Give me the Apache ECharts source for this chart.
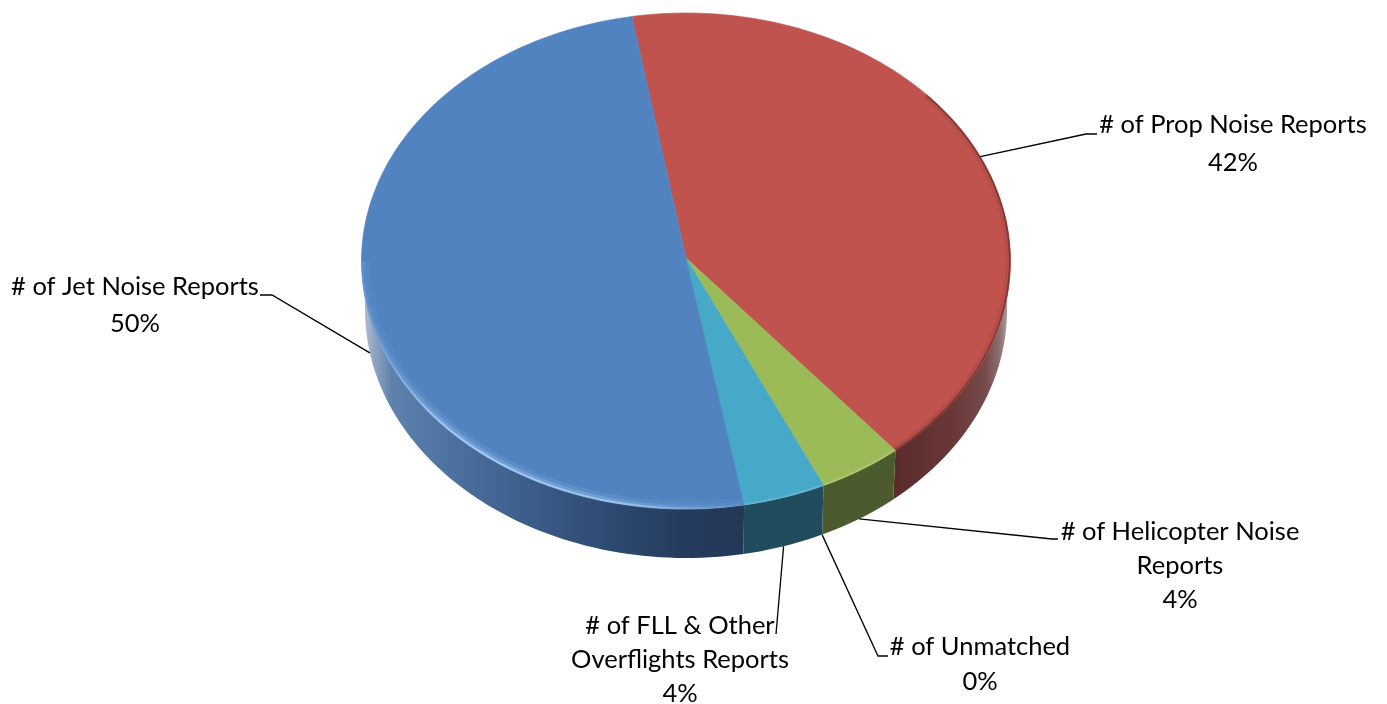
<!DOCTYPE html>
<html>
<head>
<meta charset="UTF-8">
<script src="https://cdn.jsdelivr.net/npm/echarts@6/dist/echarts.min.js"></script>
<style>
  html, body { margin: 0; padding: 0; background: #fff; }
  #main { width: 1387px; height: 704px; }
</style>
</head>
<body>
<div id="main"></div>
<script>
// values, same order as the slices go clockwise
var sliceNames = ['# of Prop Noise Reports', '# of Helicopter Noise\nReports', '# of Unmatched', '# of FLL & Other\nOverflights Reports', '# of Jet Noise Reports'];
var sliceValues = [41.5, 4.2, 0, 4.1, 50.2];
var sliceColors = ['#c0534e', '#9bbb59', '#7f7f7f', '#47a9c8', '#5283c1'];

// label placement: text centre, line height, leader elbow and stub end
var labelLayout = [
  { x: 1233, y: 144, lh: 38, elbow: [1086, 134], end: [1097, 134] },
  { x: 1180, y: 566, lh: 34, elbow: [1052, 539], end: [1058, 539] },
  { x: 980, y: 664, lh: 35, elbow: [878, 656], end: [888, 656] },
  { x: 680, y: 660, lh: 34, elbow: [776, 634], end: [776, 634] },
  { x: 135, y: 305, lh: 37, elbow: [272, 295], end: [260, 295] }
];

var TOP = { cx: 686, cy: 261, rx: 324.5, ry: 248 };
var BOTTOM = { cx: 686, cy: 310, rx: 321, ry: 248 };
var START_ANGLE = -9.6;
var total = sliceValues.reduce(function (a, b) { return a + b; }, 0);

function sliceRange(i) {
  var sum = 0;
  for (var k = 0; k < i; k++) sum += sliceValues[k];
  var a0 = START_ANGLE + sum / total * 360;
  return [a0, a0 + sliceValues[i] / total * 360];
}
function onEllipse(e, deg, k) {
  var r = deg * Math.PI / 180;
  k = k || 1;
  return [e.cx + e.rx * k * Math.sin(r), e.cy - e.ry * k * Math.cos(r)];
}
function arc(e, a0, a1, k) {
  var pts = [];
  var n = Math.max(2, Math.ceil(Math.abs(a1 - a0) / 1.5));
  for (var i = 0; i <= n; i++) pts.push(onEllipse(e, a0 + (a1 - a0) * i / n, k));
  return pts;
}
function xGradient(stops) {
  return {
    type: 'linear', x: 362, y: 0, x2: 1011, y2: 0, global: true,
    colorStops: stops.map(function (s) { return { offset: (s[0] - 362) / 649, color: s[1] }; })
  };
}

var blueGlow = xGradient([[362, 'rgba(175,215,250,0.15)'], [450, 'rgba(175,215,250,1)'], [610, 'rgba(175,215,250,0.9)'], [742, 'rgba(175,215,250,0.1)']]);
var sideFills = [
  xGradient([[895, '#5a2c2c'], [950, '#693636'], [985, '#764a4b'], [1000, '#8d7072'], [1011, '#bdb2b3']]),
  '#4c5b2e',
  '#4c5b2e',
  '#204c5e',
  xGradient([[362, '#b9c4d6'], [375, '#8ea3c0'], [392, '#5f81ad'], [440, '#4f74a3'], [520, '#3d5f8c'], [600, '#2f4c74'], [680, '#253c5e'], [745, '#233858']])
];
var rimStrokes = [
  [
    { w: 1.6, o: 0.7, c: 'rgba(110,45,42,1)' },
    { w: 5, o: 0.12, c: 'rgba(110,45,42,1)' }
  ],
  [{ w: 2, o: 0.2, c: '#dbe8b8' }],
  [],
  [{ w: 2, o: 0.2, c: '#a8e0f0' }],
  [
    { w: 9, o: 0.12, c: blueGlow },
    { w: 5, o: 0.25, c: blueGlow },
    { w: 2, o: 0.75, c: blueGlow }
  ]
];
var rimRanges = [[48, null], [null, null], [null, null], [null, null], [null, 270]];

function renderSide(params) {
  var r = sliceRange(params.dataIndex);
  if (r[1] - r[0] <= 0) return null;
  var a0 = Math.max(r[0], 75), a1 = Math.min(r[1], 285);
  if (a1 <= a0) return null;
  var pts = arc(TOP, a0, a1).concat(arc(BOTTOM, a1, a0));
  return { type: 'polygon', shape: { points: pts }, style: { fill: sideFills[params.dataIndex] }, silent: true };
}

function renderTop(params) {
  var i = params.dataIndex;
  var r = sliceRange(i);
  if (r[1] - r[0] <= 0) return null;
  var col = sliceColors[i];
  var pts = [[TOP.cx, 258]].concat(arc(TOP, r[0], r[1]));
  var children = [{ type: 'polygon', shape: { points: pts }, style: { fill: col, stroke: col, lineWidth: 0.6 } }];
  var a0 = rimRanges[i][0] === null ? r[0] : rimRanges[i][0];
  var a1 = rimRanges[i][1] === null ? r[1] : rimRanges[i][1];
  rimStrokes[i].forEach(function (s) {
    children.push({
      type: 'polyline',
      shape: { points: arc(TOP, a0, a1, 1 - s.w / 2 / TOP.rx) },
      style: { fill: 'none', stroke: s.c, lineWidth: s.w, opacity: s.o }
    });
  });
  return { type: 'group', children: children, silent: true };
}

function renderLabel(params) {
  var i = params.dataIndex;
  var r = sliceRange(i);
  var mid = (r[0] + r[1]) / 2;
  var onFront = mid > 90 && mid < 270;
  var anchor = onEllipse(onFront ? BOTTOM : TOP, mid);
  var l = labelLayout[i];
  return {
    type: 'group',
    silent: true,
    children: [
      {
        type: 'polyline',
        shape: { points: [anchor, l.elbow, l.end] },
        style: { fill: 'none', stroke: '#000', lineWidth: 1.3 }
      },
      {
        type: 'text',
        style: {
          x: l.x, y: l.y,
          text: sliceNames[i] + '\n' + sliceValues[i].toFixed(0) + '%',
          fill: '#000',
          fontFamily: 'Lato',
          fontSize: 25.5,
          lineHeight: l.lh,
          align: 'center',
          verticalAlign: 'middle'
        }
      }
    ]
  };
}

var myChart = echarts.init(document.getElementById('main'));
myChart.setOption({
  backgroundColor: '#fff',
  animation: false,
  series: [
    { type: 'custom', coordinateSystem: 'none', z: 1, renderItem: renderSide, data: sliceValues },
    { type: 'custom', coordinateSystem: 'none', z: 2, renderItem: renderTop, data: sliceValues },
    { type: 'custom', coordinateSystem: 'none', z: 3, renderItem: renderLabel, data: sliceValues }
  ]
});
</script>
</body>
</html>
